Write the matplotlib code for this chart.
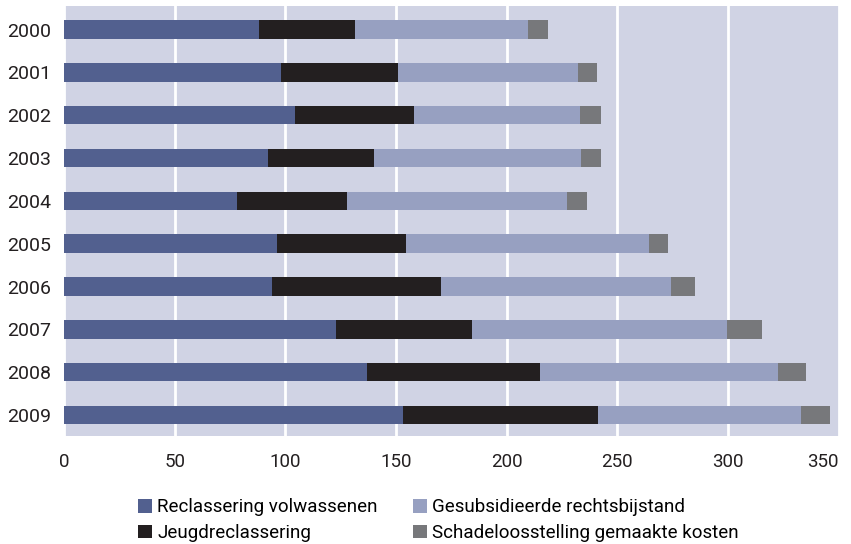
import numpy as np
import matplotlib.pyplot as plt
from matplotlib.patches import Patch

years = ['2000', '2001', '2002', '2003', '2004',
         '2005', '2006', '2007', '2008', '2009']
volwassenen = [88.2, 98.2, 104.5, 92.3, 78.2, 96.4, 94.1, 122.7, 136.7, 153.0]
jeugd = [43.5, 52.6, 53.5, 47.6, 49.5, 58.0, 76.2, 61.6, 78.4, 88.4]
rechtsbijstand = [78.0, 81.6, 75.3, 93.8, 99.7, 109.7, 103.8, 115.2, 107.5, 91.6]
schade = [9.1, 8.6, 9.1, 8.7, 9.0, 8.6, 10.9, 15.8, 12.7, 13.1]

series = [
    ('Reclassering volwassenen', volwassenen, '#52608f'),
    ('Jeugdreclassering', jeugd, '#231f20'),
    ('Gesubsidieerde rechtsbijstand', rechtsbijstand, '#97a0c1'),
    ('Schadeloosstelling gemaakte kosten', schade, '#77787b'),
]
xticks = [0, 50, 100, 150, 200, 250, 300, 350]

fig = plt.figure(figsize=(8.51, 5.44), dpi=100)
ax = fig.add_axes([0.0752, 0.1985, 0.9103, 0.7905])
ax.set_facecolor('#d0d3e4')

y = np.arange(len(years))
left = np.zeros(len(years))
for name, vals, col in series:
    ax.barh(y, vals, left=left, height=0.43, color=col, zorder=3)
    left += np.array(vals)

ax.set_xlim(0, 350)
ax.set_ylim(9.49, -0.55)
ax.set_xticks(xticks)
ax.set_xticklabels([str(t) for t in xticks], fontsize=13.5, family='Roboto',
                   color='#231f20')
ax.get_xticklabels()[-1].set_horizontalalignment('right')
ax.set_yticks(y)
ax.set_yticklabels(years, fontsize=14, family='Roboto', color='#231f20')
ax.tick_params(axis='both', length=0)
ax.tick_params(axis='x', pad=12)
ax.tick_params(axis='y', pad=9)
ax.grid(axis='x', color='white', linewidth=2, zorder=1)
ax.grid(axis='y', visible=False)
for s in ax.spines.values():
    s.set_visible(False)

handles = [Patch(facecolor=c, edgecolor='none') for _, _, c in series]
labels = [n for n, _, _ in series]
fig.legend(handles, labels, ncol=2, loc='upper left',
           bbox_to_anchor=(0.1515, 0.101), frameon=False,
           prop={'family': 'Roboto', 'size': 13.5},
           handlelength=0.75, handleheight=0.75, handletextpad=0.25,
           columnspacing=1.9, labelspacing=0.4, borderpad=0)

fig.savefig('out.png', dpi=100)
